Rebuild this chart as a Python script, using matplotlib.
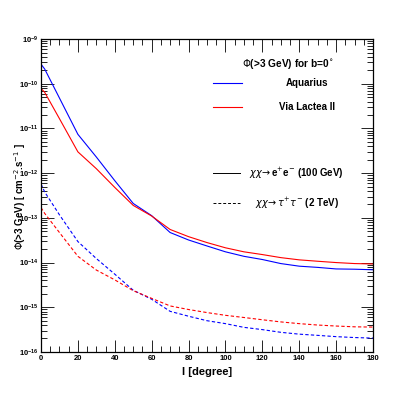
import matplotlib
matplotlib.use('Agg')
import matplotlib.pyplot as plt
import matplotlib.ticker as ticker
import numpy as np

plt.rcParams['font.family'] = ['Liberation Sans', 'DejaVu Sans']

# Longitudes (degrees)
l_deg = [0, 2, 10, 20, 30, 40, 50, 60, 70, 80, 90, 100, 110, 120, 130, 140, 150, 160, 170, 180]

# chi chi -> e+ e- (100 GeV)
aquarius_ee = [2.75e-10, 2.14e-10, 4.8e-11, 7.4e-12, 2.3e-12, 6.8e-13, 2.1e-13, 1.12e-13, 4.7e-14, 3.2e-14,
               2.35e-14, 1.74e-14, 1.38e-14, 1.17e-14, 9.5e-15, 8.3e-15, 7.8e-15, 7.2e-15, 7.1e-15, 6.9e-15]
vl2_ee = [7.85e-11, 6.45e-11, 1.66e-11, 3.0e-12, 1.26e-12, 4.8e-13, 1.9e-13, 1.1e-13, 5.5e-14, 3.8e-14,
          2.8e-14, 2.14e-14, 1.74e-14, 1.51e-14, 1.29e-14, 1.15e-14, 1.07e-14, 1.0e-14, 9.5e-15, 9.3e-15]

# chi chi -> tau+ tau- (2 TeV)
aquarius_tt = [5.75e-13, 3.8e-13, 1.17e-13, 2.95e-14, 1.23e-14, 5.5e-15, 2.4e-15, 1.51e-15, 8.1e-16, 6.3e-16,
               5.0e-16, 4.3e-16, 3.55e-16, 3.16e-16, 2.75e-16, 2.5e-16, 2.35e-16, 2.2e-16, 2.1e-16, 2.04e-16]
vl2_tt = [1.7e-13, 1.26e-13, 4.7e-14, 1.38e-14, 6.8e-15, 4.1e-15, 2.35e-15, 1.58e-15, 1.07e-15, 8.9e-16,
          7.6e-16, 6.6e-16, 5.9e-16, 5.25e-16, 4.7e-16, 4.3e-16, 4.0e-16, 3.8e-16, 3.65e-16, 3.6e-16]

fig = plt.figure(figsize=(4.15, 3.95), dpi=100)
ax = fig.add_axes([0.0988, 0.109, 0.8, 0.792])

blue = '#0000ff'
red = '#ff0000'
dash = (0, (3, 2))

ax.plot(l_deg, aquarius_ee, color=blue, lw=0.8)
ax.plot(l_deg, vl2_ee, color=red, lw=0.8)
ax.plot(l_deg, aquarius_tt, color=blue, lw=0.8, linestyle=dash)
ax.plot(l_deg, vl2_tt, color=red, lw=0.8, linestyle=dash)

ax.set_yscale('log')
ax.set_xlim(0, 180)
ax.set_ylim(1e-16, 1e-9)

ax.xaxis.set_major_locator(ticker.MultipleLocator(20))
ax.xaxis.set_minor_locator(ticker.MultipleLocator(5))
ax.yaxis.set_major_locator(ticker.LogLocator(base=10, numticks=10))
ax.yaxis.set_minor_locator(ticker.LogLocator(base=10, subs=np.arange(2, 10), numticks=10))
ax.yaxis.set_minor_formatter(ticker.NullFormatter())

ax.tick_params(which='both', direction='in', top=True, right=True, labelsize=5.5, pad=2, width=0.6)
ax.tick_params(which='major', length=9)
ax.tick_params(which='minor', length=4.5)
for lab in ax.get_xticklabels() + ax.get_yticklabels():
    lab.set_fontweight('bold')
for s in ax.spines.values():
    s.set_linewidth(0.9)

ax.set_xlabel('l [degree]', fontsize=8, fontweight='bold', labelpad=4)

# titre de l'axe y place a la main, comme dans l'original
def fx(px):
    return px / 415.0
def fy(py):
    return 1 - py / 395.0

fig.text(fx(20), fy(197), r'$\Phi$(>3 GeV) [ cm$^{-2}$.s$^{-1}$ ]', fontsize=7, fontweight='bold',
         rotation=90, ha='center', va='center')

# legende
tr = fig.transFigure
fig.text(fx(288), fy(64), r'$\Phi$(>3 GeV) for b=0$^{\circ}$', fontsize=7.3, fontweight='bold', ha='center', va='center')
fig.add_artist(plt.Line2D([fx(213), fx(242)], [fy(83), fy(83)], color=blue, lw=0.8, transform=tr))
fig.text(fx(307), fy(83), 'Aquarius', fontsize=7, fontweight='bold', ha='center', va='center')
fig.add_artist(plt.Line2D([fx(213), fx(242)], [fy(107), fy(107)], color=red, lw=0.8, transform=tr))
fig.text(fx(307), fy(107), 'Via Lactea II', fontsize=7, fontweight='bold', ha='center', va='center')
fig.add_artist(plt.Line2D([fx(213), fx(240)], [fy(173), fy(173)], color='black', lw=0.7, transform=tr))
fig.text(fx(296), fy(173), r'$\chi\chi\!\rightarrow$e$^{+}$e$^{-}$ (100 GeV)', fontsize=7, fontweight='bold', ha='center', va='center')
fig.add_artist(plt.Line2D([fx(213), fx(240)], [fy(203), fy(203)], color='black', lw=0.7, linestyle=dash, transform=tr))
fig.text(fx(297), fy(203), r'$\chi\chi\!\rightarrow\tau^{+}\tau^{-}$ (2 TeV)', fontsize=7, fontweight='bold', ha='center', va='center')

fig.savefig('out.png', dpi=100)
